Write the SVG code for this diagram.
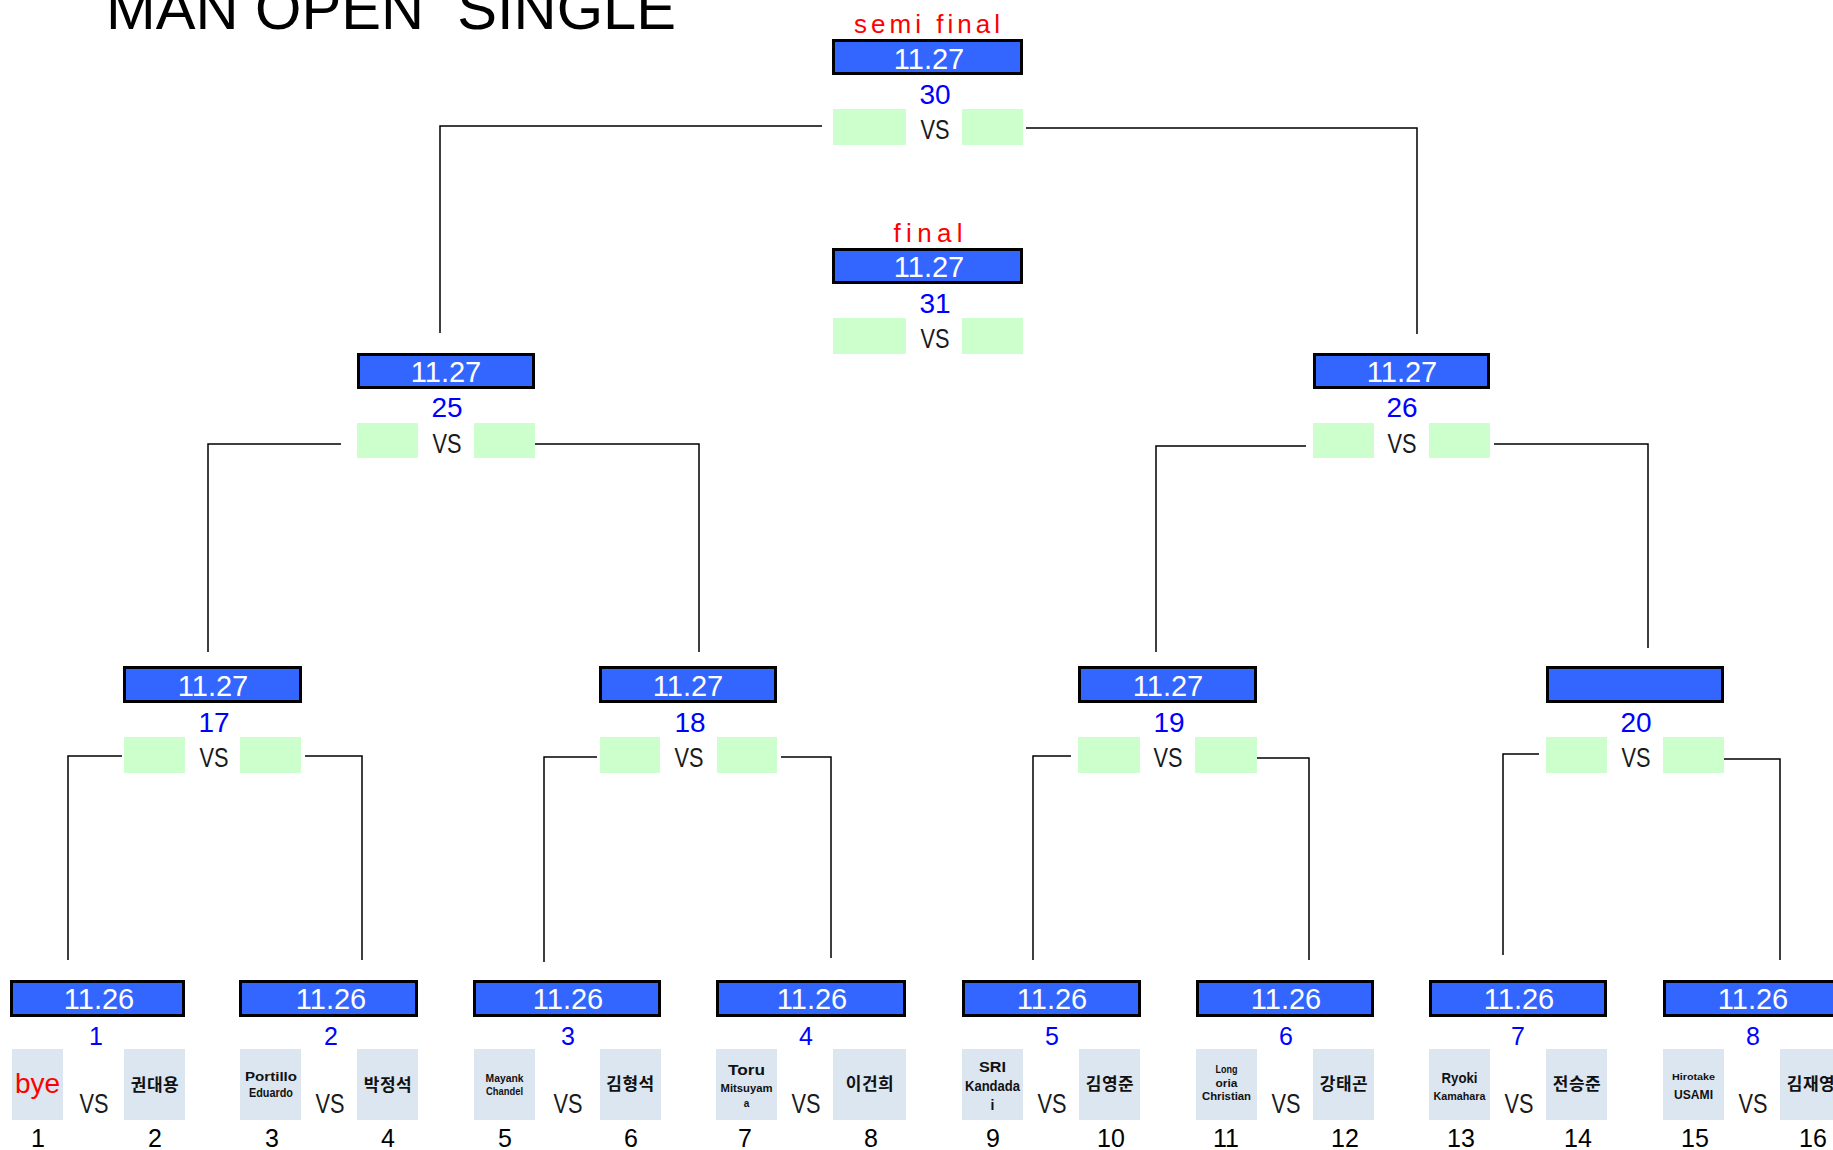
<svg xmlns="http://www.w3.org/2000/svg" width="1833" height="1150" viewBox="0 0 1833 1150">
<style>
.bg{fill:#ffffff}
.date{fill:#3366ff;stroke:#000;stroke-width:3}
.dt{font-family:"Liberation Sans",Arial,sans-serif;font-size:29px;fill:#fff;text-anchor:middle}
.num{font-family:"Liberation Sans",Arial,sans-serif;font-size:28px;fill:#0000ff;text-anchor:middle}
.num1{font-family:"Liberation Sans",Arial,sans-serif;font-size:25px;fill:#0000ff;text-anchor:middle}
.vs{font-family:"Liberation Sans",Arial,sans-serif;font-size:28px;fill:#1a1a1a;text-anchor:middle}
.green{fill:#ccffcc}
.gray{fill:#dce6f1}
.seed{font-family:"Liberation Sans",Arial,sans-serif;font-size:25px;fill:#000;text-anchor:middle}
.red{font-family:"Liberation Sans",Arial,sans-serif;font-size:26px;fill:#ff0000;text-anchor:middle}
.kr{font-family:"Noto Sans CJK KR","Noto Sans",sans-serif;font-size:17px;font-weight:bold;fill:#111;text-anchor:middle;letter-spacing:0.5px}
.en{font-family:"Liberation Sans",Arial,sans-serif;font-weight:bold;fill:#111;text-anchor:middle}
.title{font-family:"Liberation Sans",Arial,sans-serif;font-size:60px;fill:#000;white-space:pre}
.conn polyline{fill:none;stroke:#000;stroke-width:1.5}
</style>
<rect class="bg" x="0" y="0" width="1833" height="1150"/>
<text class="title" x="106" y="29" textLength="570" lengthAdjust="spacingAndGlyphs" xml:space="preserve">MAN OPEN  SINGLE</text>

<g id="connectors" class="conn">
<polyline points="822,126 440,126 440,333"/>
<polyline points="1026,128 1417,128 1417,334"/>
<polyline points="341,444 208,444 208,652"/>
<polyline points="535,444 699,444 699,652"/>
<polyline points="1306,446 1156,446 1156,652"/>
<polyline points="1494,444 1648,444 1648,648"/>
<polyline points="122,756 68,756 68,960"/>
<polyline points="305,756 362,756 362,960"/>
<polyline points="597,757 544,757 544,962"/>
<polyline points="781,757 831,757 831,958"/>
<polyline points="1071,756 1033,756 1033,960"/>
<polyline points="1253,758 1309,758 1309,960"/>
<polyline points="1539,754 1503,754 1503,955"/>
<polyline points="1724,759 1780,759 1780,960"/>
</g>

<g id="m30">
<text class="red" x="927" y="33" textLength="146" lengthAdjust="spacing">semi final</text>
<rect class="date" x="833.5" y="40.5" width="188" height="33"/>
<text class="dt" x="929" y="69">11.27</text>
<text class="num" x="935" y="104">30</text>
<rect class="green" x="833" y="109" width="73" height="36"/>
<rect class="green" x="962" y="109" width="61" height="36"/>
<text class="vs" x="935" y="139" textLength="29" lengthAdjust="spacingAndGlyphs">VS</text>
</g>

<g id="m31">
<text class="red" x="928" y="242" textLength="69" lengthAdjust="spacing">final</text>
<rect class="date" x="833.5" y="249.5" width="188" height="33"/>
<text class="dt" x="929" y="277">11.27</text>
<text class="num" x="935" y="313">31</text>
<rect class="green" x="833" y="318" width="73" height="36"/>
<rect class="green" x="962" y="318" width="61" height="36"/>
<text class="vs" x="935" y="348" textLength="29" lengthAdjust="spacingAndGlyphs">VS</text>
</g>

<g id="m25">
<rect class="date" x="358.5" y="354.5" width="175" height="33"/>
<text class="dt" x="446" y="382">11.27</text>
<text class="num" x="447" y="417">25</text>
<rect class="green" x="357" y="423" width="61" height="35"/>
<rect class="green" x="474" y="423" width="61" height="35"/>
<text class="vs" x="447" y="453" textLength="29" lengthAdjust="spacingAndGlyphs">VS</text>
</g>

<g id="m26">
<rect class="date" x="1314.5" y="354.5" width="174" height="33"/>
<text class="dt" x="1402" y="382">11.27</text>
<text class="num" x="1402" y="417">26</text>
<rect class="green" x="1313" y="423" width="61" height="35"/>
<rect class="green" x="1429" y="423" width="61" height="35"/>
<text class="vs" x="1402" y="453" textLength="29" lengthAdjust="spacingAndGlyphs">VS</text>
</g>

<g id="m17">
<rect class="date" x="124.5" y="667.5" width="176" height="34"/>
<text class="dt" x="213" y="696">11.27</text>
<text class="num" x="214" y="732">17</text>
<rect class="green" x="124" y="737" width="61" height="36"/>
<rect class="green" x="240" y="737" width="61" height="36"/>
<text class="vs" x="214" y="767" textLength="29" lengthAdjust="spacingAndGlyphs">VS</text>
</g>

<g id="m18">
<rect class="date" x="600.5" y="667.5" width="175" height="34"/>
<text class="dt" x="688" y="696">11.27</text>
<text class="num" x="690" y="732">18</text>
<rect class="green" x="600" y="737" width="60" height="36"/>
<rect class="green" x="717" y="737" width="60" height="36"/>
<text class="vs" x="689" y="767" textLength="29" lengthAdjust="spacingAndGlyphs">VS</text>
</g>

<g id="m19">
<rect class="date" x="1079.5" y="667.5" width="176" height="34"/>
<text class="dt" x="1168" y="696">11.27</text>
<text class="num" x="1169" y="732">19</text>
<rect class="green" x="1078" y="737" width="62" height="36"/>
<rect class="green" x="1195" y="737" width="62" height="36"/>
<text class="vs" x="1168" y="767" textLength="29" lengthAdjust="spacingAndGlyphs">VS</text>
</g>

<g id="m20">
<rect class="date" x="1547.5" y="667.5" width="175" height="34"/>
<text class="num" x="1636" y="732">20</text>
<rect class="green" x="1546" y="737" width="61" height="36"/>
<rect class="green" x="1663" y="737" width="61" height="36"/>
<text class="vs" x="1636" y="767" textLength="29" lengthAdjust="spacingAndGlyphs">VS</text>
</g>

<g id="m1">
<rect class="date" x="11.5" y="981.5" width="172" height="34"/>
<text class="dt" x="99" y="1009">11.26</text>
<text class="num1" x="96" y="1045">1</text>
<rect class="gray" x="12" y="1049" width="51" height="71"/>
<rect class="gray" x="124" y="1049" width="61" height="71"/>
<text x="37.5" y="1093" font-family="Liberation Sans, Arial, sans-serif" font-size="28" fill="#ff0000" text-anchor="middle">bye</text>
<text class="kr" x="155" y="1091">권대용</text>
<text class="vs" x="94" y="1113" textLength="29" lengthAdjust="spacingAndGlyphs">VS</text>
<text class="seed" x="38" y="1147">1</text>
<text class="seed" x="155" y="1147">2</text>
</g>

<g id="m2">
<rect class="date" x="240.5" y="981.5" width="176" height="34"/>
<text class="dt" x="331" y="1009">11.26</text>
<text class="num1" x="331" y="1045">2</text>
<rect class="gray" x="240" y="1049" width="61" height="71"/>
<rect class="gray" x="357" y="1049" width="61" height="71"/>
<text class="en" x="271" y="1081" font-size="12" textLength="52" lengthAdjust="spacingAndGlyphs">Portillo</text>
<text class="en" x="271" y="1097" font-size="12" textLength="44" lengthAdjust="spacingAndGlyphs">Eduardo</text>
<text class="kr" x="388" y="1091">박정석</text>
<text class="vs" x="330" y="1113" textLength="29" lengthAdjust="spacingAndGlyphs">VS</text>
<text class="seed" x="272" y="1147">3</text>
<text class="seed" x="388" y="1147">4</text>
</g>

<g id="m3">
<rect class="date" x="474.5" y="981.5" width="185" height="34"/>
<text class="dt" x="568" y="1009">11.26</text>
<text class="num1" x="568" y="1045">3</text>
<rect class="gray" x="474" y="1049" width="61" height="71"/>
<rect class="gray" x="600" y="1049" width="61" height="71"/>
<text class="en" x="504.5" y="1082" font-size="10" textLength="38" lengthAdjust="spacingAndGlyphs">Mayank</text>
<text class="en" x="504.5" y="1095" font-size="10" textLength="37" lengthAdjust="spacingAndGlyphs">Chandel</text>
<text class="kr" x="630.5" y="1090">김형석</text>
<text class="vs" x="568" y="1113" textLength="29" lengthAdjust="spacingAndGlyphs">VS</text>
<text class="seed" x="505" y="1147">5</text>
<text class="seed" x="631" y="1147">6</text>
</g>

<g id="m4">
<rect class="date" x="717.5" y="981.5" width="187" height="34"/>
<text class="dt" x="812" y="1009">11.26</text>
<text class="num1" x="806" y="1045">4</text>
<rect class="gray" x="716" y="1049" width="61" height="71"/>
<rect class="gray" x="833" y="1049" width="73" height="71"/>
<text class="en" x="746.5" y="1075" font-size="15" textLength="37" lengthAdjust="spacingAndGlyphs">Toru</text>
<text class="en" x="746.5" y="1092" font-size="10" textLength="52" lengthAdjust="spacingAndGlyphs">Mitsuyam</text>
<text class="en" x="746.5" y="1107" font-size="10">a</text>
<text class="kr" x="870" y="1090">이건희</text>
<text class="vs" x="806" y="1113" textLength="29" lengthAdjust="spacingAndGlyphs">VS</text>
<text class="seed" x="745" y="1147">7</text>
<text class="seed" x="871" y="1147">8</text>
</g>

<g id="m5">
<rect class="date" x="963.5" y="981.5" width="176" height="34"/>
<text class="dt" x="1052" y="1009">11.26</text>
<text class="num1" x="1052" y="1045">5</text>
<rect class="gray" x="962" y="1049" width="61" height="71"/>
<rect class="gray" x="1079" y="1049" width="61" height="71"/>
<text class="en" x="992.5" y="1072" font-size="14" textLength="27" lengthAdjust="spacingAndGlyphs">SRI</text>
<text class="en" x="992.5" y="1091" font-size="14" textLength="55" lengthAdjust="spacingAndGlyphs">Kandada</text>
<text class="en" x="992.5" y="1110" font-size="14">i</text>
<text class="kr" x="1110" y="1090">김영준</text>
<text class="vs" x="1052" y="1113" textLength="29" lengthAdjust="spacingAndGlyphs">VS</text>
<text class="seed" x="993" y="1147">9</text>
<text class="seed" x="1111" y="1147">10</text>
</g>

<g id="m6">
<rect class="date" x="1197.5" y="981.5" width="175" height="34"/>
<text class="dt" x="1286" y="1009">11.26</text>
<text class="num1" x="1286" y="1045">6</text>
<rect class="gray" x="1196" y="1049" width="61" height="71"/>
<rect class="gray" x="1313" y="1049" width="61" height="71"/>
<text class="en" x="1226.5" y="1073" font-size="10" textLength="22" lengthAdjust="spacingAndGlyphs">Long</text>
<text class="en" x="1226.5" y="1087" font-size="10" textLength="22" lengthAdjust="spacingAndGlyphs">oria</text>
<text class="en" x="1226.5" y="1100" font-size="10" textLength="49" lengthAdjust="spacingAndGlyphs">Christian</text>
<text class="kr" x="1344" y="1090">강태곤</text>
<text class="vs" x="1286" y="1113" textLength="29" lengthAdjust="spacingAndGlyphs">VS</text>
<text class="seed" x="1226" y="1147">11</text>
<text class="seed" x="1345" y="1147">12</text>
</g>

<g id="m7">
<rect class="date" x="1430.5" y="981.5" width="175" height="34"/>
<text class="dt" x="1519" y="1009">11.26</text>
<text class="num1" x="1518" y="1045">7</text>
<rect class="gray" x="1429" y="1049" width="61" height="71"/>
<rect class="gray" x="1546" y="1049" width="61" height="71"/>
<text class="en" x="1459.5" y="1083" font-size="14" textLength="36" lengthAdjust="spacingAndGlyphs">Ryoki</text>
<text class="en" x="1459.5" y="1100" font-size="11" textLength="52" lengthAdjust="spacingAndGlyphs">Kamahara</text>
<text class="kr" x="1577" y="1090">전승준</text>
<text class="vs" x="1519" y="1113" textLength="29" lengthAdjust="spacingAndGlyphs">VS</text>
<text class="seed" x="1461" y="1147">13</text>
<text class="seed" x="1578" y="1147">14</text>
</g>

<g id="m8">
<rect class="date" x="1664.5" y="981.5" width="175" height="34"/>
<text class="dt" x="1753" y="1009">11.26</text>
<text class="num1" x="1753" y="1045">8</text>
<rect class="gray" x="1663" y="1049" width="61" height="71"/>
<rect class="gray" x="1780" y="1049" width="61" height="71"/>
<text class="en" x="1693.5" y="1080" font-size="9" textLength="43" lengthAdjust="spacingAndGlyphs">Hirotake</text>
<text class="en" x="1693.5" y="1099" font-size="13" textLength="39" lengthAdjust="spacingAndGlyphs">USAMI</text>
<text class="kr" x="1811" y="1090">김재영</text>
<text class="vs" x="1753" y="1113" textLength="29" lengthAdjust="spacingAndGlyphs">VS</text>
<text class="seed" x="1695" y="1147">15</text>
<text class="seed" x="1813" y="1147">16</text>
</g>
</svg>
